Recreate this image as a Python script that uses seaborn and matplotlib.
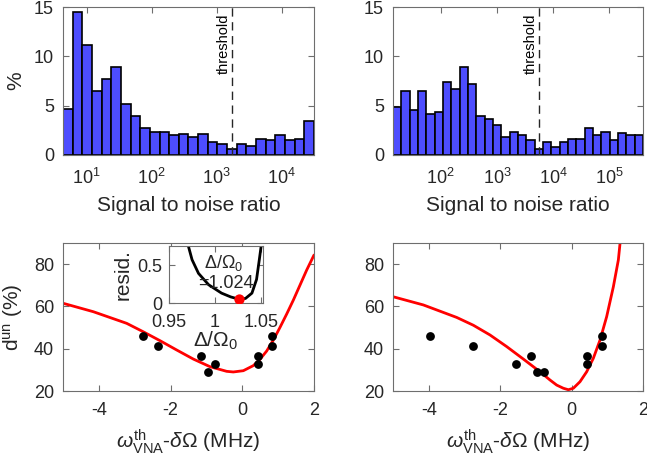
import numpy as np
import pandas as pd
import matplotlib
matplotlib.use("Agg")
import matplotlib.pyplot as plt
from matplotlib.ticker import NullLocator
import seaborn as sns

# ---------------- data ----------------
# histogram percentages (log-spaced bins)
left_pct = [4.68, 14.5, 11.1, 6.47, 7.72, 8.93, 5.19, 3.98, 2.73, 2.36, 2.36, 2.02, 2.16,
            1.82, 2.16, 1.28, 1.08, 0.57, 1.08, 0.91, 1.65, 1.48, 1.99, 1.48, 1.65, 3.44]
left_log_range = (0.635, 4.497)
left_threshold = 1740

right_pct = [4.89, 6.5, 4.52, 6.5, 4.15, 4.31, 7.38, 6.64, 8.93, 7.15, 3.98, 3.64, 3.07, 1.85,
             2.36, 2.02, 1.48, 0.57, 1.28, 0.78, 1.28, 1.65, 1.65, 2.73, 2.02, 2.36, 1.48,
             2.19, 2.02, 2.02]
right_log_range = (1.156, 5.595)
right_threshold = 5600

hist_xticks_left = [10, 100, 1000, 10000]
hist_xticks_right = [100, 1000, 10000, 100000]

# measured points
left_x = [-2.76, -2.36, -1.16, -0.96, -0.76, 0.44, 0.44, 0.83, 0.83]
left_y = [46.1, 41.1, 36.7, 29.1, 32.8, 36.7, 32.8, 46.1, 41.1]
right_x = [-3.96, -2.75, -1.56, -1.15, -0.96, -0.76, 0.44, 0.44, 0.84, 0.84]
right_y = [46.1, 41.1, 32.8, 36.7, 29.1, 29.1, 36.7, 32.8, 46.1, 41.1]

# fitted curves
left_fit_x = [-5.0, -4.154, -3.224, -2.76, -2.295, -1.83, -1.365, -0.9, -0.436, -0.25, 0.029,
              0.308, 0.494, 0.68, 0.866, 1.052, 1.238, 1.424, 1.61, 1.796, 2.0]
left_fit_y = [61.5, 57.5, 52.0, 48.0, 43.8, 39.4, 35.1, 31.5, 29.3, 29.0, 29.6,
              32.0, 35.0, 38.9, 44.1, 50.1, 56.4, 63.0, 70.1, 77.2, 84.3]
right_fit_x = [-5.0, -4.15, -3.217, -2.75, -2.284, -1.817, -1.35, -0.884, -0.604, -0.417, -0.23,
               -0.09, 0.05, 0.236, 0.423, 0.61, 0.797, 0.983, 1.17, 1.31, 1.40]
right_fit_y = [64.6, 60.7, 54.8, 51.1, 46.5, 41.0, 35.1, 29.1, 25.2, 22.8, 21.3,
               20.6, 21.3, 24.4, 29.1, 35.5, 44.1, 55.2, 69.3, 82.0, 97.0]

# inset residual curve
inset_x = [0.971, 0.975, 0.982, 0.993, 1.007, 1.017, 1.026, 1.033, 1.040, 1.045, 1.048, 1.050]
inset_y = [0.75, 0.57, 0.39, 0.24, 0.13, 0.08, 0.05, 0.06, 0.13, 0.31, 0.57, 0.75]
best_x = [1.026]
best_y = [0.05]

# ---------------- style ----------------
sns.set_theme(style="ticks")
TXT = "#262626"
SPINE = "#6e6e6e"
plt.rcParams.update({
    "font.family": ["Liberation Sans", "DejaVu Sans"],
    "mathtext.fontset": "custom",
    "mathtext.rm": "Liberation Sans",
    "mathtext.it": "Liberation Sans:italic",
    "mathtext.bf": "Liberation Sans:bold",
    "axes.unicode_minus": False,
    "axes.edgecolor": SPINE,
    "axes.linewidth": 0.8,
    "text.color": TXT,
    "axes.labelcolor": TXT,
    "xtick.color": TXT,
    "ytick.color": TXT,
    "xtick.labelsize": 13,
    "ytick.labelsize": 13,
    "axes.labelsize": 15,
})

fig = plt.figure(figsize=(6.47, 4.68), dpi=100)
W, H = 647, 468


def add_ax(x0, y0, x1, y1):
    return fig.add_axes([x0 / W, 1 - y1 / H, (x1 - x0) / W, (y1 - y0) / H])


ax_tl = add_ax(63, 7, 314, 155)
ax_tr = add_ax(393, 7, 643, 155)
ax_bl = add_ax(63, 243, 314, 391)
ax_br = add_ax(393, 243, 643, 391)

BAR = "#4d4dff"


def style_ax(ax, xpad=7, ypad=6.5):
    ax.tick_params(direction="in", length=4, width=0.8, top=True, right=True,
                   which="major", colors=SPINE, labelcolor=TXT)
    ax.tick_params(axis="x", pad=xpad)
    ax.tick_params(axis="y", pad=ypad)
    for s in ax.spines.values():
        s.set_visible(True)
        s.set_linewidth(0.8)
        s.set_color(SPINE)


def hist(ax, pct, rng, thr, xticks):
    n = len(pct)
    w = (rng[1] - rng[0]) / n
    centers = [10 ** (rng[0] + (i + 0.5) * w) for i in range(n)]
    sns.histplot(x=centers, weights=pct, bins=n, binrange=rng, log_scale=True,
                 stat="count", color=BAR, alpha=1, edgecolor="black", linewidth=1.2, ax=ax)
    ax.set_xlim(10 ** rng[0], 10 ** rng[1])
    ax.set_ylim(0, 15)
    ax.set_yticks([0, 5, 10, 15])
    ax.set_xticks(xticks)
    ax.xaxis.set_minor_locator(NullLocator())
    ax.axvline(thr, color=TXT, lw=1.0, ls=(0, (6, 4)))
    ax.text(thr / 1.04, 14.3, "threshold", rotation=90, ha="right", va="top",
            fontsize=10.5, color="black")
    style_ax(ax, xpad=9)
    ax.set_xlabel("Signal to noise ratio", labelpad=6)
    ax.set_ylabel("")


hist(ax_tl, left_pct, left_log_range, left_threshold, hist_xticks_left)
hist(ax_tr, right_pct, right_log_range, right_threshold, hist_xticks_right)
ax_tl.set_ylabel("%", labelpad=6)

xlab = r"$\omega^{\rm th}_{\rm VNA}$-$\delta\Omega$ (MHz)"


def fitpanel(ax, px, py, fx, fy):
    sns.lineplot(x=fx, y=fy, sort=False, estimator=None, color="red", lw=2, ax=ax)
    sns.scatterplot(x=px, y=py, color="black", s=40, edgecolor="black", linewidth=0,
                    zorder=3, ax=ax)
    ax.set_xlim(-5, 2)
    ax.set_ylim(20, 90)
    ax.set_xticks([-4, -2, 0, 2])
    ax.set_yticks([20, 40, 60, 80])
    style_ax(ax, xpad=8)
    ax.set_xlabel(xlab, labelpad=6)


fitpanel(ax_bl, left_x, left_y, left_fit_x, left_fit_y)
fitpanel(ax_br, right_x, right_y, right_fit_x, right_fit_y)
ax_bl.set_ylabel(r"d$^{\rm un}$ (%)", labelpad=6)

# inset
ax_in = add_ax(169, 246, 263, 303)
sns.lineplot(x=inset_x, y=inset_y, sort=False, estimator=None, color="black", lw=2, ax=ax_in)
sns.scatterplot(x=best_x, y=best_y, color="red", s=55, linewidth=0, zorder=3, ax=ax_in)
ax_in.set_xlim(0.953, 1.052)
ax_in.set_ylim(0, 0.75)
ax_in.set_xticks([0.95, 1, 1.05])
ax_in.set_xticklabels(["0.95", "1", "1.05"])
ax_in.set_yticks([0, 0.5])
ax_in.set_yticklabels(["0", "0.5"])
style_ax(ax_in, xpad=8, ypad=5)
ax_in.set_xlabel(r"$\Delta/\Omega_0$", labelpad=-1)
ax_in.set_ylabel("resid.", labelpad=3)
ax_in.text(0.58, 0.61, r"$\Delta/\Omega_0$", transform=ax_in.transAxes, ha="center",
           va="baseline", fontsize=13)
ax_in.text(0.61, 0.27, "=1.024", transform=ax_in.transAxes, ha="center", va="baseline",
           fontsize=13)
ax_in.set_facecolor("white")

fig.savefig("out.png", dpi=100)
